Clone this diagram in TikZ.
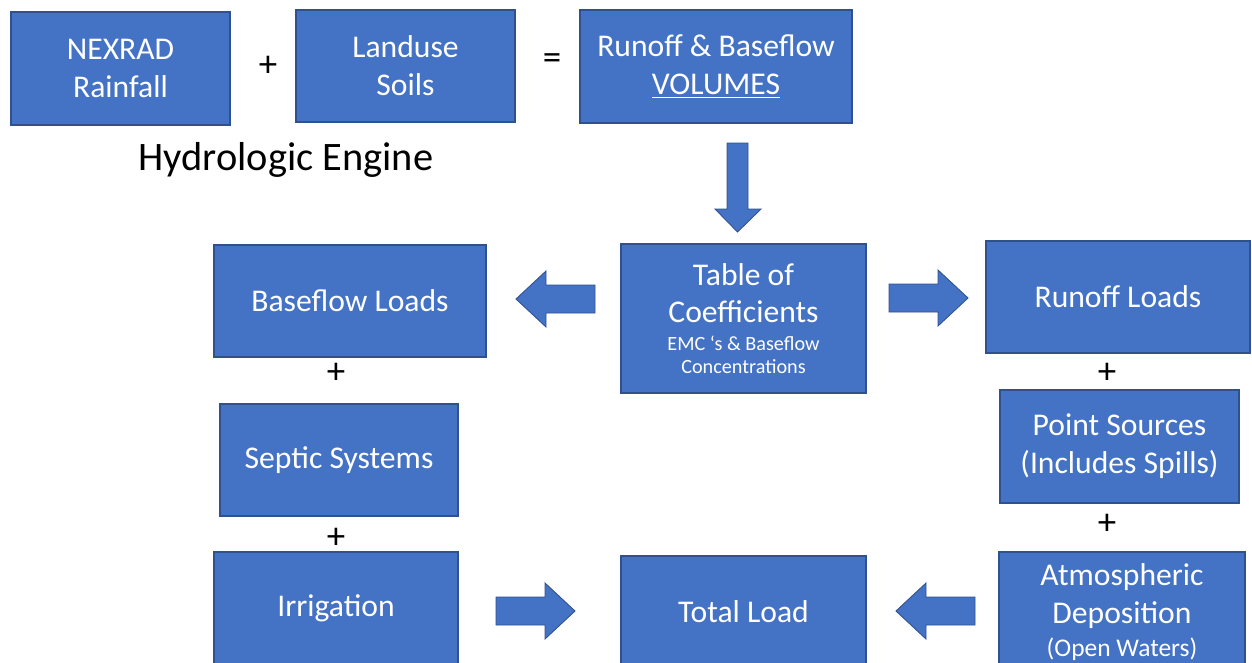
\documentclass[tikz,border=0pt]{standalone}
\usepackage{fontspec}
\setmainfont{Carlito}
\definecolor{boxblue}{HTML}{4472C4}
\definecolor{boxedge}{HTML}{2F528F}
\tikzset{
  box/.style={draw=boxedge, fill=boxblue, text=white, align=center, inner sep=0pt,
    line width=0.6pt, font=\fontsize{18}{21.5}\selectfont},
  plus/.style={font=\fontsize{21}{24}\selectfont},
  fatarrow/.pic={
    \filldraw[fill=boxblue, draw=boxedge, line width=0.5pt]
      (0,-14) -- (49,-14) -- (49,-28) -- (79,0) -- (49,28) -- (49,14) -- (0,14) -- cycle;
  }
}
\newcommand\smallline[1]{{\fontsize{11.5}{13.5}\selectfont #1}}
\begin{document}
\begin{tikzpicture}[x=0.02cm, y=-0.02cm]
        \useasboundingbox (0,0) rectangle (1252,663);
        \clip (0,0) rectangle (1252,663);

        % Hydrologic engine row
        \node[box, minimum width=219*0.02cm, minimum height=113*0.02cm] (nexrad) at (120.5,68.5) {NEXRAD\\Rainfall};
        \node[plus] (p1) at (268,66) {+};
        \node[box, minimum width=219*0.02cm, minimum height=112*0.02cm] (landuse) at (405.5,66) {Landuse\\Soils};
        \node[plus] (eq) at (552,62) {=};
        \node[box, minimum width=272*0.02cm, minimum height=113*0.02cm] (volumes) at (716,66.5) {Runoff \& Baseflow\\\underline{VOLUMES}};
        \node[font=\fontsize{23}{27}\selectfont] (engine) at (286,160) {Hydrologic Engine};

        % Arrow down to the coefficients
        \filldraw[fill=boxblue, draw=boxedge, line width=0.5pt]
          (727,143) -- (748,143) -- (748,209) -- (761,209) -- (737.5,232) -- (715,209) -- (727,209) -- cycle;

        % Table of coefficients
        \node[box, minimum width=245*0.02cm, minimum height=149*0.02cm] (coef) at (743.5,318.5)
          {Table of\\Coefficients\\[-6pt]\smallline{EMC ‘s \& Baseflow}\\[-8pt]\smallline{Concentrations}};
        \pic at (595,299) [rotate=180] {fatarrow};
        \pic at (889,298) {fatarrow};

        % Left column
        \node[box, minimum width=272*0.02cm, minimum height=112*0.02cm] (baseflow) at (350,301) {Baseflow Loads};
        \node[plus] (p2) at (336,373) {+};
        \node[box, minimum width=238*0.02cm, minimum height=112*0.02cm] (septic) at (339,460) {Septic Systems};
        \node[plus] (p3) at (336,538) {+};
        \node[box, minimum width=244*0.02cm, minimum height=112*0.02cm] (irrig) at (336,608) {Irrigation};

        % Right column
        \node[box, minimum width=264*0.02cm, minimum height=112*0.02cm] (runoff) at (1118,297) {Runoff Loads};
        \node[plus] (p4) at (1107,373) {+};
        \node[box, minimum width=239*0.02cm, minimum height=113*0.02cm] (point) at (1119.5,446.5) {Point Sources\\(Includes Spills)};
        \node[plus] (p5) at (1107,524) {+};
        \node[box, minimum width=246*0.02cm, minimum height=120*0.02cm] (atmos) at (1122,612)
          {Atmospheric\\Deposition\\[-3pt]{\fontsize{14.5}{17}\selectfont (Open Waters)}};

        % Total load
        \node[box, minimum width=245*0.02cm, minimum height=112*0.02cm] (total) at (743.5,612) {Total Load};
        \pic at (496,611) {fatarrow};
        \pic at (975,611) [rotate=180] {fatarrow};
\end{tikzpicture}
\end{document}
